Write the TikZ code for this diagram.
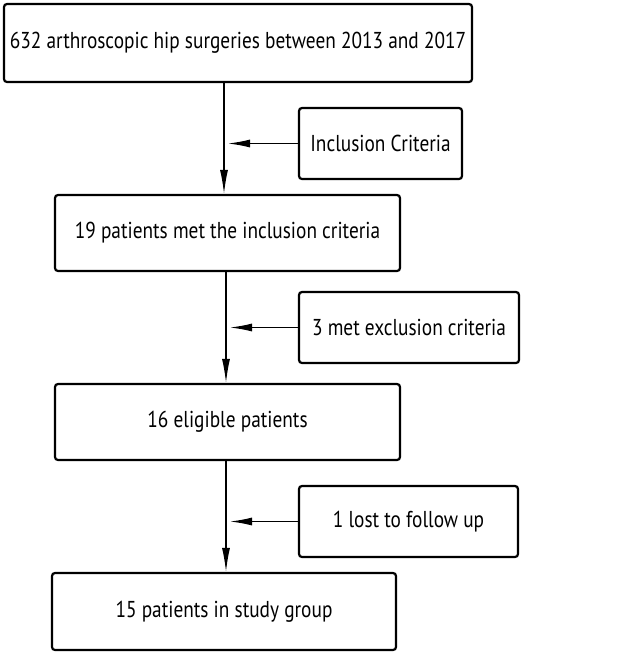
\documentclass[tikz,border=0pt]{standalone}
\usepackage{fontspec}
\usepackage{graphicx}
\setmainfont{PT Sans}
\usetikzlibrary{arrows.meta}
\newcommand{\hsq}[1]{\scalebox{0.84}[1]{#1}}
\begin{document}
\begin{tikzpicture}[x=1pt,y=-1pt,
  box/.style={draw=black,line width=2.2pt,rounded corners=3pt,inner sep=0pt,
    font=\fontsize{23}{27}\selectfont},
  arr/.style={line width=1.3pt,-{Latex[length=24pt,width=8pt]}},
  harr/.style={line width=1.3pt,-{Latex[length=22pt,width=8pt]}}]
\useasboundingbox[fill=white] (0,0) rectangle (634,654);
\node[box,minimum width=468pt,minimum height=78pt] (b1) at (238,43) {\hsq{632 arthroscopic hip surgeries between 2013 and 2017}};
\node[box,minimum width=163pt,minimum height=71pt] (inc) at (380.5,143.5) {\hsq{Inclusion Criteria}};
\node[box,minimum width=345pt,minimum height=76pt] (b2) at (227.5,233) {\hsq{19 patients met the inclusion criteria}};
\node[box,minimum width=220pt,minimum height=71pt] (exc) at (409,327.5) {\hsq{3 met exclusion criteria}};
\node[box,minimum width=345pt,minimum height=76pt] (b3) at (227.5,422) {\hsq{16 eligible patients}};
\node[box,minimum width=219pt,minimum height=71pt] (lost) at (408.5,521.5) {\hsq{1 lost to follow up}};
\node[box,minimum width=344pt,minimum height=77pt] (b4) at (224,611.5) {\hsq{15 patients in study group}};
\coordinate (j1) at (224,143.5);
\coordinate (j2) at (226,327.5);
\coordinate (j3) at (226,521.5);
\draw[arr] (j1 |- b1.south) -- (j1 |- b2.north);
\draw[harr] (inc.west) -- ([xshift=4pt]j1);
\draw[arr] (j2 |- b2.south) -- (j2 |- b3.north);
\draw[harr] (exc.west) -- ([xshift=4pt]j2);
\draw[arr] (j3 |- b3.south) -- (j3 |- b4.north);
\draw[harr] (lost.west) -- ([xshift=4pt]j3);
\end{tikzpicture}
\end{document}
